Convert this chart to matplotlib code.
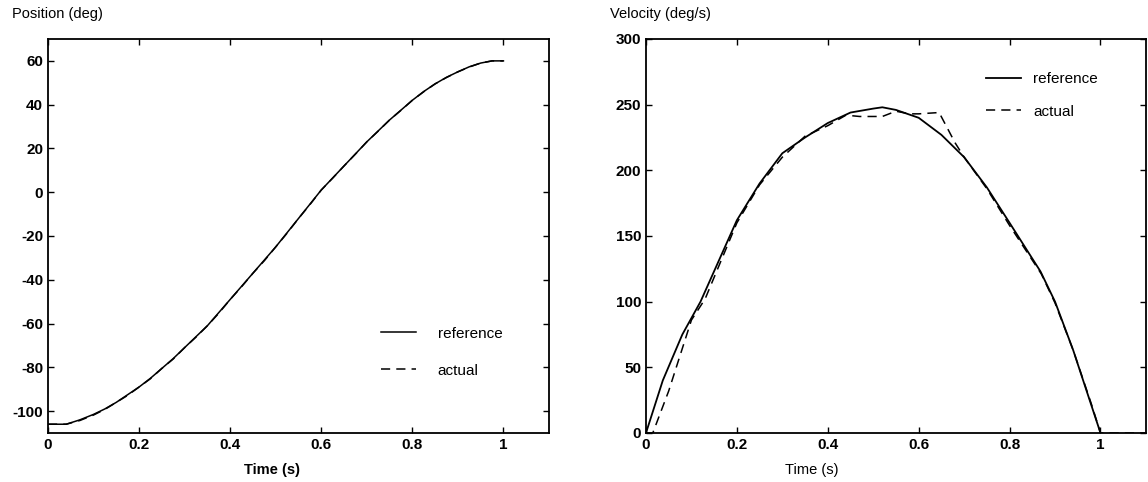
import numpy as np
import matplotlib
matplotlib.use('Agg')
import matplotlib.pyplot as plt

plt.rcParams['font.family'] = ['Liberation Sans', 'DejaVu Sans']
plt.rcParams['axes.unicode_minus'] = False

# position (deg)
t_pos = [0.0, 0.04, 0.07, 0.1, 0.125, 0.15, 0.175, 0.2, 0.225, 0.25, 0.275,
         0.3, 0.325, 0.35, 0.375, 0.4, 0.425, 0.45, 0.475, 0.5, 0.525, 0.55,
         0.575, 0.6, 0.625, 0.65, 0.675, 0.7, 0.725, 0.75, 0.775, 0.8, 0.825,
         0.85, 0.875, 0.9, 0.925, 0.95, 0.975, 1.0]
pos_ref = [-106, -106, -104, -101.5, -99, -96, -92.5, -89, -85, -80.5, -76,
           -71, -66, -61, -55, -49, -43, -37, -31, -25, -18.5, -12,
           -5.5, 1, 6.5, 12, 17.5, 23, 28, 33, 37.5, 42, 46,
           49.5, 52.5, 55, 57.3, 59, 60, 60]
pos_act = [-106, -106, -104.3, -101.8, -99.2, -96, -92.8, -89, -85.2, -80.5, -76.2,
           -71, -66.2, -61, -55.3, -49, -43.2, -37, -31.3, -25, -18.7, -12,
           -5.7, 1, 6.4, 12, 17.4, 23, 27.9, 33, 37.4, 42, 45.9,
           49.5, 52.4, 55, 57.2, 59, 60, 60]

# velocity (deg/s)
t_vel_ref = [0.0, 0.037, 0.08, 0.12, 0.2, 0.25, 0.3, 0.35, 0.4, 0.45, 0.5,
             0.52, 0.55, 0.6, 0.65, 0.7, 0.75, 0.8, 0.868, 0.9, 0.94, 1.0]
vel_ref = [0, 40, 75, 100, 162, 190, 213, 225, 236, 244, 247,
           248, 246, 240, 227, 210, 187, 160, 123, 100, 63, 0]
t_vel_act = [0.0, 0.015, 0.05, 0.1, 0.13, 0.2, 0.25, 0.3, 0.35, 0.4, 0.44,
             0.47, 0.52, 0.55, 0.58, 0.6, 0.645, 0.68, 0.7, 0.75, 0.8, 0.87,
             0.9, 0.94, 0.98, 1.0, 1.1]
vel_act = [0, 0, 32, 86, 102, 160, 189, 210, 226, 234, 242,
           241, 241, 245, 243, 243, 244, 221, 210, 186, 158, 121,
           99, 63, 22, 0, 0]

fig = plt.figure(figsize=(11.48, 4.82), dpi=100)
ax1 = fig.add_axes([0.0418, 0.1017, 0.4364, 0.8174])
ax2 = fig.add_axes([0.5627, 0.1017, 0.4355, 0.8174])

ax1.plot(t_pos, pos_ref, color='black', lw=1.1, label='reference')
ax1.plot(t_pos, pos_act, color='black', lw=1.1, ls=(0, (6, 4)), label='actual')
ax1.set_xlim(0, 1.1)
ax1.set_ylim(-110, 70)
ax1.set_yticks([-100, -80, -60, -40, -20, 0, 20, 40, 60])
ax1.set_xticks([0, 0.2, 0.4, 0.6, 0.8, 1])
ax1.set_xticklabels(['0', '0.2', '0.4', '0.6', '0.8', '1'])

ax2.plot(t_vel_ref, vel_ref, color='black', lw=1.3, label='reference')
ax2.plot(t_vel_act, vel_act, color='black', lw=1.1, ls=(0, (6, 4)), label='actual')
ax2.set_xlim(0, 1.1)
ax2.set_ylim(0, 300)
ax2.set_yticks([0, 50, 100, 150, 200, 250, 300])
ax2.set_xticks([0, 0.2, 0.4, 0.6, 0.8, 1])
ax2.set_xticklabels(['0', '0.2', '0.4', '0.6', '0.8', '1'])

for ax in (ax1, ax2):
    ax.tick_params(direction='in', top=True, right=True, length=4,
                   labelsize=11, width=1)
    for s in ax.spines.values():
        s.set_linewidth(1.3)
    for lab in ax.get_xticklabels() + ax.get_yticklabels():
        lab.set_fontweight('bold')

ax1.legend(loc='upper left', bbox_to_anchor=(0.665, 0.27), frameon=False,
           fontsize=11, handlelength=2.3, handletextpad=1.4, labelspacing=1.5,
           borderpad=0, borderaxespad=0)
ax2.legend(loc='upper left', bbox_to_anchor=(0.68, 0.915), frameon=False,
           fontsize=11, handlelength=2.3, handletextpad=0.8, labelspacing=1.2,
           borderpad=0, borderaxespad=0)

fig.text(12 / 1148, 1 - 14 / 482, 'Position (deg)', fontsize=10.5,
         va='center', ha='left')
fig.text(610 / 1148, 1 - 14 / 482, 'Velocity (deg/s)', fontsize=10.5,
         va='center', ha='left')
fig.text(272 / 1148, 1 - 470 / 482, 'Time (s)', fontsize=10.5, fontweight='bold',
         va='center', ha='center')
fig.text(812 / 1148, 1 - 470 / 482, 'Time (s)', fontsize=10.5,
         va='center', ha='center')

fig.savefig('out.png', dpi=100)
